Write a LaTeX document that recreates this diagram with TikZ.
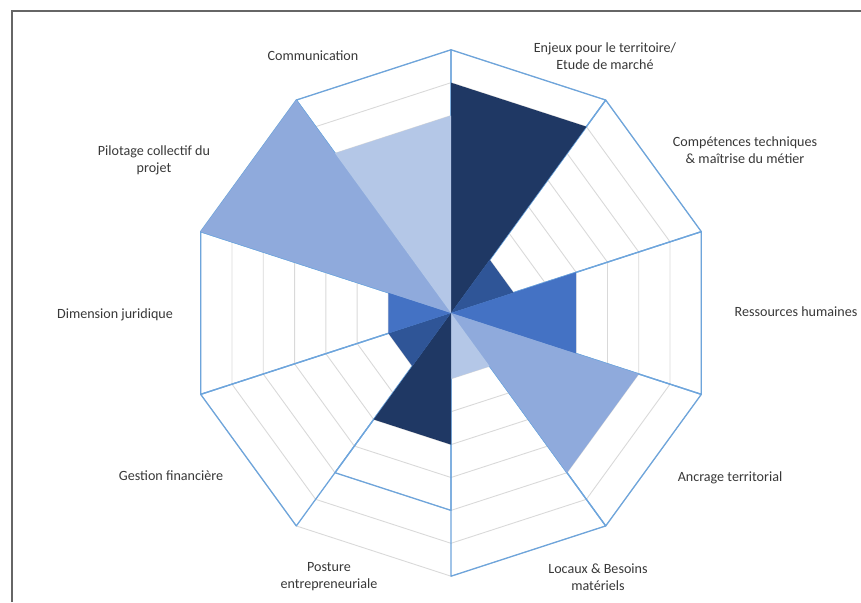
\documentclass[tikz,border=0pt]{standalone}
\usepackage{fontspec}
\setmainfont{Carlito}
\definecolor{mynavy}{RGB}{31,56,100}
\definecolor{mydarkblue}{RGB}{47,85,151}
\definecolor{mymidblue}{RGB}{68,114,196}
\definecolor{mylightblue}{RGB}{143,170,220}
\definecolor{mypaleblue}{RGB}{180,199,231}
\definecolor{myline}{RGB}{110,165,220}
\definecolor{mygrid}{RGB}{217,217,217}
\definecolor{mytext}{RGB}{56,56,56}
\tikzset{
  ring/.style={draw=mygrid, line width=0.9pt},
  maxline/.style={draw=myline, line width=1.3pt, line join=round},
  axislabel/.style={text=mytext, align=center, inner sep=0pt},
  frame/.style={draw=gray!80!black, line width=1.5pt}
}

\begin{document}
\begin{tikzpicture}[x=1pt,y=1pt,font=\fontsize{14.1}{17}\selectfont]
\useasboundingbox (0,0) rectangle (861,602);

\draw[frame] (12,0) -- (12,591) -- (861,591);

\coordinate (c) at (451,289);

\begin{scope}[shift={(c)}]
% grid
\foreach \k in {1,...,8}
  \draw[ring] (90:{\k*32.9}) \foreach \a in {54,18,...,-234} {-- ({\a}:{\k*32.9})} -- cycle;

% maximum per axis
\foreach \a/\m in {72/8,36/8,0/8,-36/8,-72/8,-108/6,-144/8,180/8,144/8,108/8}
  \draw[maxline] (0,0) -- ({\a+18}:{\m*32.9}) -- ({\a-18}:{\m*32.9}) -- cycle;

% scores
\foreach \a/\v/\col in {72/7/mynavy, 36/2/mydarkblue, 0/4/mymidblue, -36/6/mylightblue,
  -72/2/mypaleblue, -108/4/mynavy, -144/2/mydarkblue, 180/2/mymidblue,
  144/8/mylightblue, 108/6/mypaleblue}
  \fill[\col] (0,0) -- ({\a+18}:{\v*32.9}) -- ({\a-18}:{\v*32.9}) -- cycle;
\end{scope}

% labels
\node[axislabel] (enjeux) at (605,545.5) {Enjeux pour le territoire/\\Etude de march\'e};
\node[axislabel] (competences) at (745,452) {Comp\'etences techniques\\\& ma\^itrise du m\'etier};
\node[axislabel] (rh) at (796,290) {Ressources humaines};
\node[axislabel] (ancrage) at (730,124) {Ancrage territorial};
\node[axislabel] (locaux) at (598,25) {Locaux \& Besoins\\mat\'eriels};
\node[axislabel] (posture) at (329,25) {Posture\\entrepreneuriale};
\node[axislabel] (gestion) at (171,126) {Gestion financi\`ere};
\node[axislabel] (juridique) at (115,287) {Dimension juridique};
\node[axislabel] (pilotage) at (154,441.5) {Pilotage collectif du\\projet};
\node[axislabel] (communication) at (313,546) {Communication};

\end{tikzpicture}
\end{document}
